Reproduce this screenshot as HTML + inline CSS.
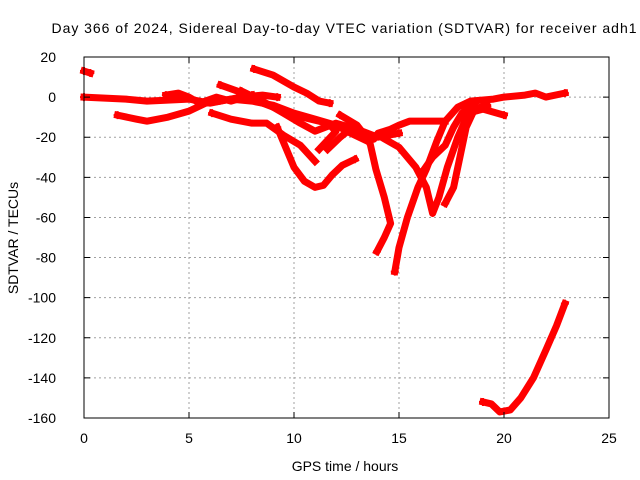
<!DOCTYPE html>
<html><head><meta charset="utf-8"><style>
html,body{margin:0;padding:0;background:#fff;}
svg{display:block;font-family:"Liberation Sans",sans-serif;}
</style></head><body>
<svg id="chart" width="640" height="480" viewBox="0 0 640 480">
<text x="344" y="33" font-size="14" text-anchor="middle" textLength="585">Day 366 of 2024, Sidereal Day-to-day VTEC variation (SDTVAR) for receiver adh1</text>
<g id="grid"></g>
<g id="series"></g>
<rect x="84" y="57" width="525" height="361" fill="none" stroke="#000" stroke-width="1"/>
<g id="ticks"></g>
<text x="345" y="471" font-size="14" text-anchor="middle">GPS time / hours</text>
<text x="18" y="238" font-size="14" text-anchor="middle" transform="rotate(-90 18 238)">SDTVAR / TECUs</text>
</svg>
<script>
const xTicks=[0,5,10,15,20,25];
const yTicks=[20,0,-20,-40,-60,-80,-100,-120,-140,-160];
const trackC=[[0,13],[0.3,12]];
const trackA=[[0,0],[2,-1],[3,-2],[4,-1.5],[5,-1],[6,-3],[7,-1],[8,-2],[9,-4],[10,-8],[11,-11],[12,-14],[12.7,-18],[13.5,-22]];
const trackB=[[1.6,-9],[2.5,-11],[3,-12],[4,-10],[5,-7],[5.8,-3],[6.5,-2],[7.5,0],[8.5,1],[9.2,0]];
const trackB2=[[3.9,1],[4.5,2],[5,0],[5.5,-3],[6.3,0],[7,-2],[8,1]];
const trackD=[[8.1,14],[9,11],[10,5],[10.6,2],[11.2,-2],[11.7,-3]];
const trackE=[[6.5,6],[7.3,3],[8,-1],[9,-5],[10,-9],[10.8,-11],[11.6,-13],[12,-17],[11.2,-26]];
const trackE2=[[7.5,3],[8.5,-2],[9.5,-8],[10.3,-13],[11,-17],[12,-13],[13,-16],[14,-20],[15,-18]];
const trackF=[[6.1,-8],[7,-11],[8,-13],[8.7,-13],[9.5,-19],[10.3,-24],[11,-32]];
const trackG=[[9.2,-15],[9.6,-25],[10,-35],[10.5,-42],[11,-45],[11.4,-44],[11.8,-39],[12.3,-34],[12.9,-31]];
const trackH=[[11.6,-26],[12.2,-20],[12.8,-15],[13.2,-17],[13.8,-21],[14,-18],[14.6,-16],[15,-14],[15.5,-12],[16.5,-12],[17.2,-12]];
const trackI=[[12.2,-9],[13,-14],[13.6,-22],[13.9,-36],[14.3,-50],[14.6,-63],[14.3,-70],[13.95,-77]];
const trackJ=[[14.8,-87],[15,-75],[15.4,-60],[15.9,-45],[16.3,-36],[16.8,-22],[17.2,-12],[17.8,-5],[18.4,-2],[19.5,-1],[20,0],[21,1],[21.5,2],[22,0],[22.9,2]];
const trackK=[[14,-19],[15,-25],[15.8,-35],[16.3,-45],[16.6,-58],[16.9,-50],[17.3,-35],[17.8,-20],[18.3,-8],[19,-6],[20,-9]];
const trackL=[[17.2,-53],[17.6,-45],[17.9,-30],[18.2,-15],[18.6,-6],[19.2,-4]];
const trackM=[[16.2,-36],[16.6,-30],[17.2,-24],[17.6,-15],[18,-8],[18.6,-3]];
const trackN=[[19,-152],[19.4,-153],[19.8,-157],[20.3,-156],[20.8,-150],[21.4,-140],[22,-126],[22.5,-114],[22.9,-103]];
const tracks=[trackC,trackA,trackB,trackB2,trackD,trackE,trackE2,trackF,trackG,trackH,trackI,trackJ,trackK,trackL,trackM,trackN];
const X0=84,X1=609,Y0=418,Y1=57,xMin=0,xMax=25,yMin=-160,yMax=20;
function sx(v){return X0+(v-xMin)/(xMax-xMin)*(X1-X0);}
function sy(v){return Y0-(v-yMin)/(yMax-yMin)*(Y0-Y1);}
const NS="http://www.w3.org/2000/svg";
const grid=document.getElementById('grid'),ticks=document.getElementById('ticks'),ser=document.getElementById('series');
function mk(tag,attrs,parent){const e=document.createElementNS(NS,tag);for(const k in attrs)e.setAttribute(k,attrs[k]);parent.appendChild(e);return e;}
xTicks.forEach(t=>{
  const x=sx(t);
  if(t>xMin&&t<xMax){const g=mk('line',{x1:x,x2:x,y1:Y1,y2:Y0,stroke:'#a0a0a0','stroke-dasharray':'2,3'},grid);
  
  }
  const tk=mk('path',{d:`M${x},${Y0}v-6M${x},${Y1}v6`,stroke:'#000'},ticks);
  
  
  const l=mk('text',{x:x,y:Y0+25,'font-size':14,'text-anchor':'middle'},ticks);
  l.textContent=t;
  
  
});
yTicks.forEach(t=>{
  const y=sy(t);
  if(t>yMin&&t<yMax){const g=mk('line',{x1:X0,x2:X1,y1:y,y2:y,stroke:'#a0a0a0','stroke-dasharray':'2,3'},grid);
  
  }
  const tk=mk('path',{d:`M${X0},${y}h6M${X1},${y}h-6`,stroke:'#000'},ticks);
  
  
  const l=mk('text',{x:X0-28,y:y+5,'font-size':14,'text-anchor':'end'},ticks);
  l.textContent=t;
  
  
});
tracks.forEach((tr,i)=>{
  const p=mk('polyline',{points:tr.map(d=>sx(d[0])+','+sy(d[1])).join(' '),fill:'none',stroke:'#ff0000','stroke-width':7,'stroke-linejoin':'round','stroke-linecap':'square'},ser);
  
  
  [tr[0],tr[tr.length-1]].forEach(d=>{
    const m=mk('path',{d:`M${sx(d[0])-4},${sy(d[1])}h8M${sx(d[0])},${sy(d[1])-4}v8`,stroke:'#ff0000','stroke-width':2},ser);
    
    
  });
});
</script>
</body></html>
